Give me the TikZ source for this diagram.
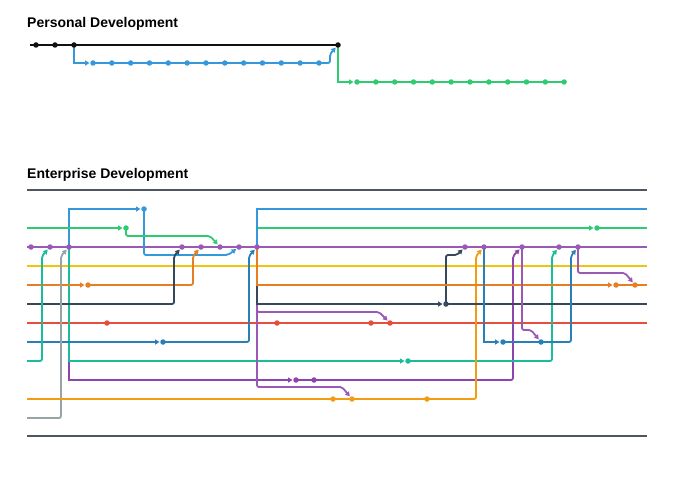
\documentclass[tikz,border=0pt]{standalone}
\usepackage{fontspec}
\setmainfont{Liberation Sans}
\usetikzlibrary{arrows.meta,calc}
\definecolor{railc}{HTML}{50565F}
\definecolor{blackc}{HTML}{111111}
\definecolor{bluec}{HTML}{3498DB}
\definecolor{greenc}{HTML}{2ECC71}
\definecolor{purplec}{HTML}{9B59B6}
\definecolor{yellowc}{HTML}{F1C40F}
\definecolor{orangec}{HTML}{E67E22}
\definecolor{slatec}{HTML}{34495E}
\definecolor{redc}{HTML}{E74C3C}
\definecolor{navyc}{HTML}{2980B9}
\definecolor{tealc}{HTML}{1ABC9C}
\definecolor{violetc}{HTML}{8E44AD}
\definecolor{goldc}{HTML}{F39C12}
\definecolor{grayc}{HTML}{95A5A6}
\pgfdeclarelayer{bg}
\pgfsetlayers{bg,main}

\begin{document}
\begin{tikzpicture}[
  x=1pt, y=-1pt,
  lane/.style={draw=#1, line width=1.8pt},
  rail/.style={draw=railc, line width=2.4pt},
  commit/.style={circle, fill=#1, inner sep=0pt, minimum size=5.5pt},
  tip/.style={-{Triangle[length=4.5pt,width=5pt]}, shorten >=0.5pt},
  merge/.style={tip, rounded corners=2pt},
  title/.style={font=\bfseries\fontsize{14}{17}\selectfont, anchor=base west, inner sep=0pt}
]
\useasboundingbox (0,0) rectangle (700,500);

% titles
\node[title] (ptitle) at (27,28) {Personal Development};
\node[title] (etitle) at (27,178) {Enterprise Development};

% personal development
\coordinate (ps) at (30,45);
\foreach \n/\x in {1/36,2/55,3/74,4/338}
  \node[commit=blackc] (p\n) at (\x,45) {};
\foreach \n in {1,...,13}
  \node[commit=bluec] (b\n) at ({93+18.83*(\n-1)},63) {};
\foreach \n in {1,...,12}
  \node[commit=greenc] (g\n) at ({357+18.83*(\n-1)},82) {};

% enterprise development: lane ends
\foreach \l/\y in {top/190,bl/209,gr/228,ms/247,ye/266,or/285,sl/304,re/323,nv/342,te/361,vi/380,go/399,ga/418,bot/436} {
  \coordinate (\l L) at (27,\y);
  \coordinate (\l R) at (647,\y);
}
% master
\foreach \n/\x in {1/31,2/50,3/69,4/182,5/201,6/220,7/239,8/257,9/465,10/484,11/522,12/559,13/578}
  \node[commit=purplec] (m\n) at (\x,247) {};
% branches
\node[commit=bluec] (blA) at (144,209) {};
\node[commit=greenc] (grA) at (126,228) {};
\node[commit=greenc] (grB) at (597,228) {};
\node[commit=orangec] (orA) at (88,285) {};
\node[commit=orangec] (orB) at (616,285) {};
\node[commit=orangec] (orC) at (635,285) {};
\node[commit=slatec] (slA) at (446,304) {};
\foreach \n/\x in {A/107,B/277,C/371,D/390}
  \node[commit=redc] (re\n) at (\x,323) {};
\node[commit=navyc] (nvA) at (163,342) {};
\node[commit=navyc] (nvB) at (503,342) {};
\node[commit=navyc] (nvC) at (541,342) {};
\node[commit=tealc] (teA) at (408,361) {};
\node[commit=violetc] (viA) at (296,380) {};
\node[commit=violetc] (viB) at (314,380) {};
\foreach \n/\x in {A/333,B/352,C/427}
  \node[commit=goldc] (go\n) at (\x,399) {};

\begin{pgfonlayer}{bg}
  % personal
  \draw[lane=blackc] (ps) -- (p4.center);
  \draw[lane=bluec, tip] (p3.center) |- (b1);
  \draw[lane=bluec] (b1.center) -- (b13.center);
  \draw[lane=bluec, merge] (b13.center) -| ($(p4)+(-8,9)$) -- (p4);
  \draw[lane=greenc, tip] (p4.center) |- (g1);
  \draw[lane=greenc] (g1.center) -- (g12.center);

  % rails
  \draw[rail] (topL) -- (topR);
  \draw[rail] (botL) -- (botR);

  % lanes without merges
  \draw[lane=yellowc] (yeL) -- (yeR);
  \draw[lane=redc] (reL) -- (reR);
  \draw[lane=purplec] (msL) -- (msR);

  % branches from m3
  \draw[lane=violetc, tip] (m3.center) |- (viA);
  \draw[lane=violetc] (viA.center) -- (viB.center);
  \draw[lane=violetc, merge] (viB.center) -| ($(m11)+(-9,9)$) -- (m11);
  \draw[lane=tealc, tip] (m3.center) |- (teA);
  \draw[lane=tealc, merge] (teA.center) -| ($(m12)+(-7,9)$) -- (m12);
  \draw[lane=bluec, tip] (m3.center) |- (blA);
  \draw[lane=bluec, merge] (blA.center) |- ($(m7)+(-11,8)$) -- (m7);

  % early lanes merged into master
  \draw[lane=greenc, tip] (grL) -- (grA);
  \draw[lane=greenc, merge] (grA.center) |- ($(m6)+(-10,-11)$) -- (m6);
  \draw[lane=orangec, tip] (orL) -- (orA);
  \draw[lane=orangec, merge] (orA.center) -| ($(m5)+(-8,9)$) -- (m5);
  \draw[lane=slatec, merge] (slL) -| ($(m4)+(-8,9)$) -- (m4);
  \draw[lane=navyc, tip] (nvL) -- (nvA);
  \draw[lane=navyc, merge] (nvA.center) -| ($(m8)+(-8,9)$) -- (m8);
  \draw[lane=tealc, merge] (teL) -| ($(m2)+(-8,9)$) -- (m2);
  \draw[lane=grayc, merge] (gaL) -| ($(m3)+(-8,9)$) -- (m3);
  \draw[lane=goldc] (goL) -- (goC.center);
  \draw[lane=goldc, merge] (goC.center) -| ($(m10)+(-8,9)$) -- (m10);

  % branches from m8
  \draw[lane=purplec, merge] (m8.center) |- ($(goB)+(-10,-12)$) -- (goB);
  \draw[lane=purplec, merge] (m8.center) |- ($(reD)+(-11,-11)$) -- (reD);
  \draw[lane=slatec, tip] (m8.center) |- (slA);
  \draw[lane=slatec] (slA.center) -- (slR);
  \draw[lane=slatec, merge] (slA.center) |- ($(m9)+(-8,8)$) -- (m9);
  \draw[lane=orangec, tip] (m8.center) |- (orB);
  \draw[lane=orangec] (orB.center) -- (orR);
  \draw[lane=greenc, tip] (m8.center) |- (grB);
  \draw[lane=greenc] (grB.center) -- (grR);
  \draw[lane=bluec] (m8.center) |- (blR);

  % late branches
  \draw[lane=navyc, tip] (m10.center) |- (nvB);
  \draw[lane=navyc] (nvB.center) -- (nvC.center);
  \draw[lane=navyc, merge] (nvC.center) -| ($(m13)+(-7,9)$) -- (m13);
  \draw[lane=purplec, merge] (m11.center) |- ($(nvC)+(-10,-12)$) -- (nvC);
  \draw[lane=purplec, merge] (m13.center) |- ($(orC)+(-10,-12)$) -- (orC);
\end{pgfonlayer}
\end{tikzpicture}
\end{document}
